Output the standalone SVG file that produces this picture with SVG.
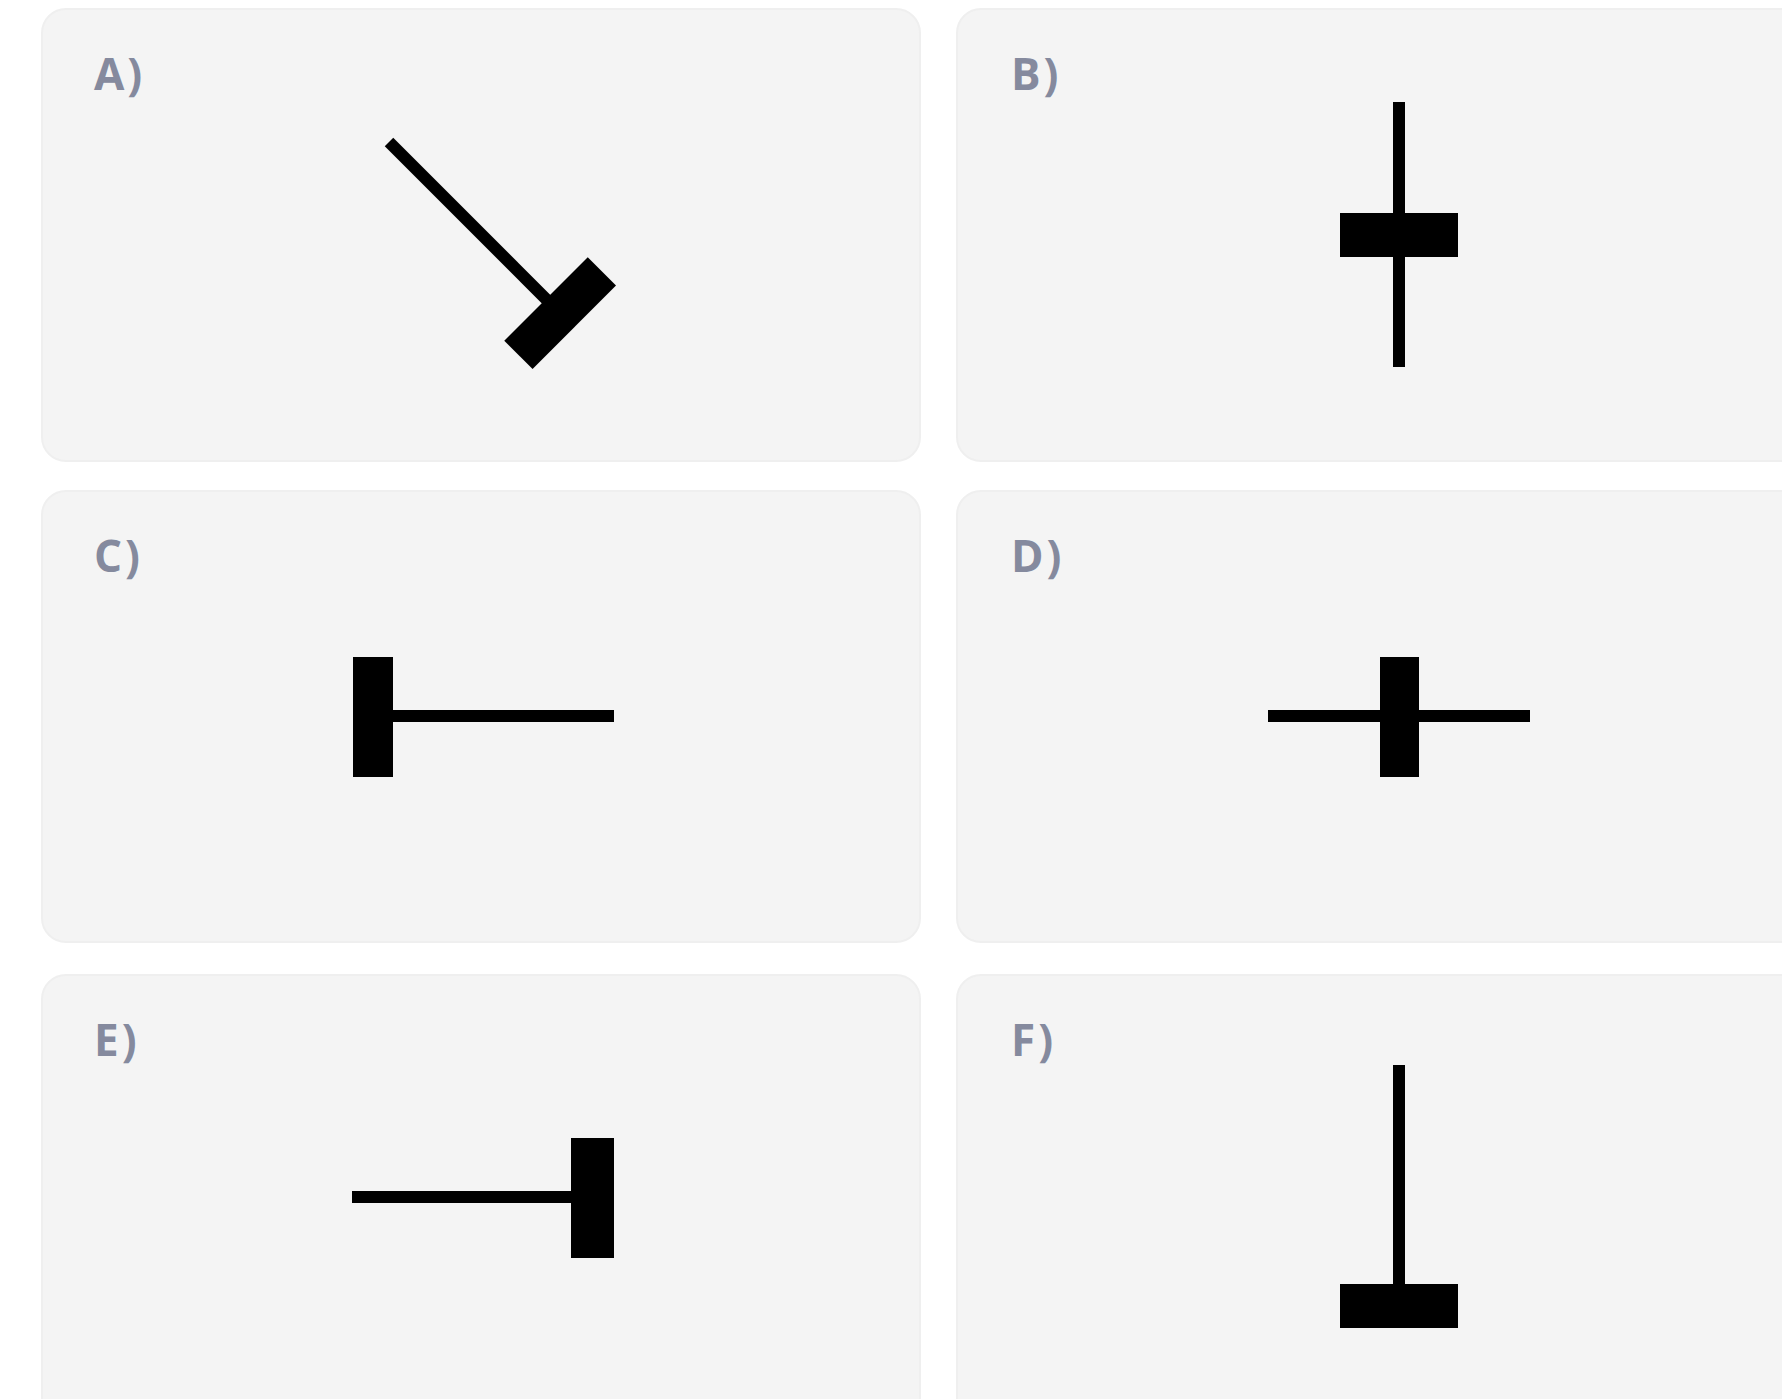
<svg xmlns="http://www.w3.org/2000/svg" width="1782" height="1399" viewBox="0 0 1782 1399">
  <style>
    .panel { fill: #f4f4f4; stroke: #efefef; stroke-width: 2; }
    .lbl { font-family: "Open Sans", "Liberation Sans", Arial, sans-serif; font-weight: bold; font-size: 44px; letter-spacing: 3px; fill: #858a9e; }
    .ln { stroke: #000; stroke-width: 12; fill: none; stroke-linecap: butt; }
    .bar { fill: #000; }
  </style>
  <rect x="0" y="0" width="1782" height="1399" fill="#ffffff"/>

  <g id="panel-A">
    <rect class="panel" x="42" y="9" width="878" height="452" rx="24"/>
    <text class="lbl" x="94" y="90">A)</text>
    <g transform="translate(546,299) rotate(-45)">
      <line class="ln" x1="0" y1="-222" x2="0" y2="2"/>
      <rect class="bar" x="-59" y="0" width="118" height="40"/>
    </g>
  </g>

  <g id="panel-B">
    <rect class="panel" x="957" y="9" width="860" height="452" rx="24"/>
    <text class="lbl" x="1011" y="90">B)</text>
    <line class="ln" x1="1399" y1="102" x2="1399" y2="367"/>
    <rect class="bar" x="1340" y="213" width="118" height="44"/>
  </g>

  <g id="panel-C">
    <rect class="panel" x="42" y="491" width="878" height="451" rx="24"/>
    <text class="lbl" x="94" y="572">C)</text>
    <rect class="bar" x="353" y="657" width="40" height="120"/>
    <line class="ln" x1="392" y1="716" x2="614" y2="716"/>
  </g>

  <g id="panel-D">
    <rect class="panel" x="957" y="491" width="860" height="451" rx="24"/>
    <text class="lbl" x="1011" y="572">D)</text>
    <line class="ln" x1="1268" y1="716" x2="1530" y2="716"/>
    <rect class="bar" x="1380" y="657" width="39" height="120"/>
  </g>

  <g id="panel-E">
    <rect class="panel" x="42" y="975" width="878" height="460" rx="24"/>
    <text class="lbl" x="94" y="1056">E)</text>
    <line class="ln" x1="352" y1="1197" x2="572" y2="1197"/>
    <rect class="bar" x="571" y="1138" width="43" height="120"/>
  </g>

  <g id="panel-F">
    <rect class="panel" x="957" y="975" width="860" height="460" rx="24"/>
    <text class="lbl" x="1011" y="1056">F)</text>
    <line class="ln" x1="1399" y1="1065" x2="1399" y2="1285"/>
    <rect class="bar" x="1340" y="1284" width="118" height="44"/>
  </g>

  <g id="connectors"></g>
</svg>
